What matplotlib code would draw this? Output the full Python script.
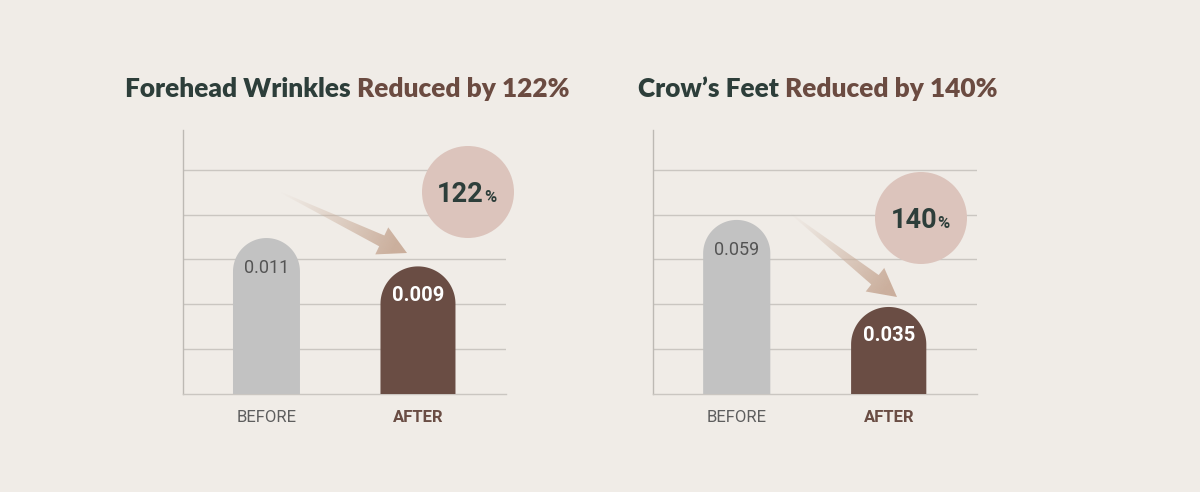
import numpy as np
import matplotlib
matplotlib.use("Agg")
import matplotlib.pyplot as plt
from matplotlib.patches import Polygon, Circle

# ---------------- data ----------------
categories = ["BEFORE", "AFTER"]
title_dark = ["Forehead Wrinkles", "Crow’s Feet"]
title_brown = ["Reduced by 122%", "Reduced by 140%"]
before_values = [0.011, 0.059]
after_values = [0.009, 0.035]
badge_numbers = ["122", "140"]

# ---------------- style ----------------
W, H, DPI = 1200, 492, 100
BG = "#f0ece7"
DARK = "#2d3e3a"
BROWN = "#6b4b41"
BAR_BROWN = "#6a4d44"
BAR_GRAY = "#c2c2c2"
GRID = "#cac6c1"
SPINE = "#bdb9b4"
BADGE = "#dcc4bc"
ARROW = np.array([0xc9, 0xac, 0x99]) / 255.0

TITLE_FONT = "Lato"
NUM_FONT = "Roboto"
TITLE_SIZE = 18.9

fig = plt.figure(figsize=(W / DPI, H / DPI), dpi=DPI, facecolor=BG)

panel_left_px = [183, 653]
panel_right_px = [506, 977]
axis_top_px, axis_bottom_px = 130, 394
ylims = [(0.0, 0.01862), (0.011, 0.0838)]
xlim = (-0.551, 1.581)
bar_widths = [0.442, 0.495]
grid_px = np.array([45, 90, 135, 179, 224])
title_x_px = [125, 638]
title_base_px = 97
badge_center_px = [(468, 192), (921, 218)]
badge_r_px = 46
arrow_px = [((280, 192), (407, 253)), ((790, 213), (897, 297))]

axes = []
for i in range(2):
    l = panel_left_px[i] / W
    w = (panel_right_px[i] - panel_left_px[i]) / W
    b = (H - axis_bottom_px) / H
    h = (axis_bottom_px - axis_top_px) / H
    ax = fig.add_axes([l, b, w, h])
    ax.set_facecolor("none")
    ymin, ymax = ylims[i]
    ax.set_xlim(*xlim)
    ax.set_ylim(ymin, ymax)
    for s in ["top", "right"]:
        ax.spines[s].set_visible(False)
    ax.spines["left"].set_color(SPINE)
    ax.spines["bottom"].set_color(GRID)
    ax.spines["left"].set_linewidth(1.0)
    ax.spines["bottom"].set_linewidth(1.0)
    ax.set_yticks(ymin + grid_px / (axis_bottom_px - axis_top_px) * (ymax - ymin))
    ax.set_yticklabels([])
    ax.tick_params(axis="y", length=0)
    ax.grid(axis="y", color=GRID, linewidth=1.0)
    ax.set_axisbelow(True)
    ax.set_xticks([0, 1])
    ax.set_xticklabels(categories)
    ax.tick_params(axis="x", length=0, pad=11.5)
    lbls = ax.get_xticklabels()
    lbls[0].set_fontfamily(NUM_FONT)
    lbls[0].set_fontsize(12)
    lbls[0].set_color("#5e5e5e")
    lbls[1].set_fontfamily(NUM_FONT)
    lbls[1].set_fontsize(12)
    lbls[1].set_fontweight("bold")
    lbls[1].set_color(BAR_BROWN)
    axes.append(ax)

fig.canvas.draw()


def dome_bar(ax, x, width, value, color):
    ymin, ymax = ax.get_ylim()
    p0 = ax.transData.transform((0, ymin))
    p1 = ax.transData.transform((1, ymax))
    px_per_x = p1[0] - p0[0]
    px_per_y = (p1[1] - p0[1]) / (ymax - ymin)
    rx = width / 2
    ry = rx * px_per_x / px_per_y
    yc = value - ry
    t = np.linspace(0, np.pi, 80)
    xs = np.concatenate([[x - rx, x + rx], x + rx * np.cos(t)])
    ys = np.concatenate([[ymin, ymin], yc + ry * np.sin(t)])
    ax.add_patch(Polygon(np.column_stack([xs, ys]), closed=True,
                         facecolor=color, edgecolor="none", zorder=3))


for i, ax in enumerate(axes):
    vals = [before_values[i], after_values[i]]
    cols = [BAR_GRAY, BAR_BROWN]
    for j, v in enumerate(vals):
        dome_bar(ax, j, bar_widths[j], v, cols[j])
    ax.annotate(f"{vals[0]:.3f}", xy=(0, vals[0]), xytext=(0, -30),
                textcoords="offset pixels", ha="center", va="center",
                fontfamily=NUM_FONT, fontsize=13, color="#545454", zorder=4)
    ax.annotate(f"{vals[1]:.3f}", xy=(1, vals[1]), xytext=(0, -29),
                textcoords="offset pixels", ha="center", va="center",
                fontfamily=NUM_FONT, fontsize=14.5, fontweight="bold",
                color="white", zorder=4)

# ---------------- overlay (titles, arrows, badges) ----------------
oax = fig.add_axes([0, 0, 1, 1])
oax.set_xlim(0, W)
oax.set_ylim(H, 0)
oax.axis("off")
oax.patch.set_visible(False)

renderer = fig.canvas.get_renderer()
for i in range(2):
    t1 = oax.text(title_x_px[i], title_base_px, title_dark[i], va="baseline",
                  ha="left", fontfamily=TITLE_FONT, fontweight="heavy",
                  fontsize=TITLE_SIZE, color=DARK)
    bb = t1.get_window_extent(renderer)
    x_brown = bb.x1 + 6  # display px == data px in overlay
    oax.text(x_brown, title_base_px, title_brown[i], va="baseline", ha="left",
             fontfamily=TITLE_FONT, fontweight="heavy", fontsize=TITLE_SIZE,
             color=BROWN)


def gradient_arrow(tail, tip):
    tail = np.array(tail, float)
    tip = np.array(tip, float)
    d = tip - tail
    L = np.hypot(*d)
    d /= L
    n = np.array([-d[1], d[0]])
    head_len, head_hw, shaft_base, shaft_tail = 28.0, 15.0, 6.0, 0.5
    bc = tip - d * head_len
    pts = np.array([tail + n * shaft_tail, bc + n * shaft_base, bc + n * head_hw,
                    tip, bc - n * head_hw, bc - n * shaft_base, tail - n * shaft_tail])
    poly = Polygon(pts, closed=True, facecolor="none", edgecolor="none")
    oax.add_patch(poly)
    x0, x1 = pts[:, 0].min() - 2, pts[:, 0].max() + 2
    y0, y1 = pts[:, 1].min() - 2, pts[:, 1].max() + 2
    nx, ny = int(x1 - x0) * 2, int(y1 - y0) * 2
    gx, gy = np.meshgrid(np.linspace(x0, x1, nx), np.linspace(y0, y1, ny))
    tt = ((gx - tail[0]) * d[0] + (gy - tail[1]) * d[1]) / (L - head_len * 0.5)
    tt = np.clip(tt, 0, 1)
    img = np.zeros((ny, nx, 4))
    img[..., :3] = ARROW
    img[..., 3] = tt ** 1.1 * 0.95
    im = oax.imshow(img, extent=(x0, x1, y1, y0), origin="upper",
                    interpolation="bilinear", zorder=2)
    im.set_clip_path(poly)


for i in range(2):
    gradient_arrow(*arrow_px[i])
    cx, cy = badge_center_px[i]
    oax.add_patch(Circle((cx, cy), badge_r_px, facecolor=BADGE,
                         edgecolor="none", zorder=3))
    oax.text(cx + 16, cy + 10, badge_numbers[i], ha="right", va="baseline",
             fontfamily=NUM_FONT, fontweight="bold", fontsize=19.5,
             color=DARK, zorder=4)
    oax.text(cx + 16.5, cy + 10, "%", ha="left", va="baseline",
             fontfamily=NUM_FONT, fontweight="bold", fontsize=12,
             color=DARK, zorder=4)

oax.set_xlim(0, W)
oax.set_ylim(H, 0)

fig.savefig("out.png", dpi=DPI, facecolor=BG)
